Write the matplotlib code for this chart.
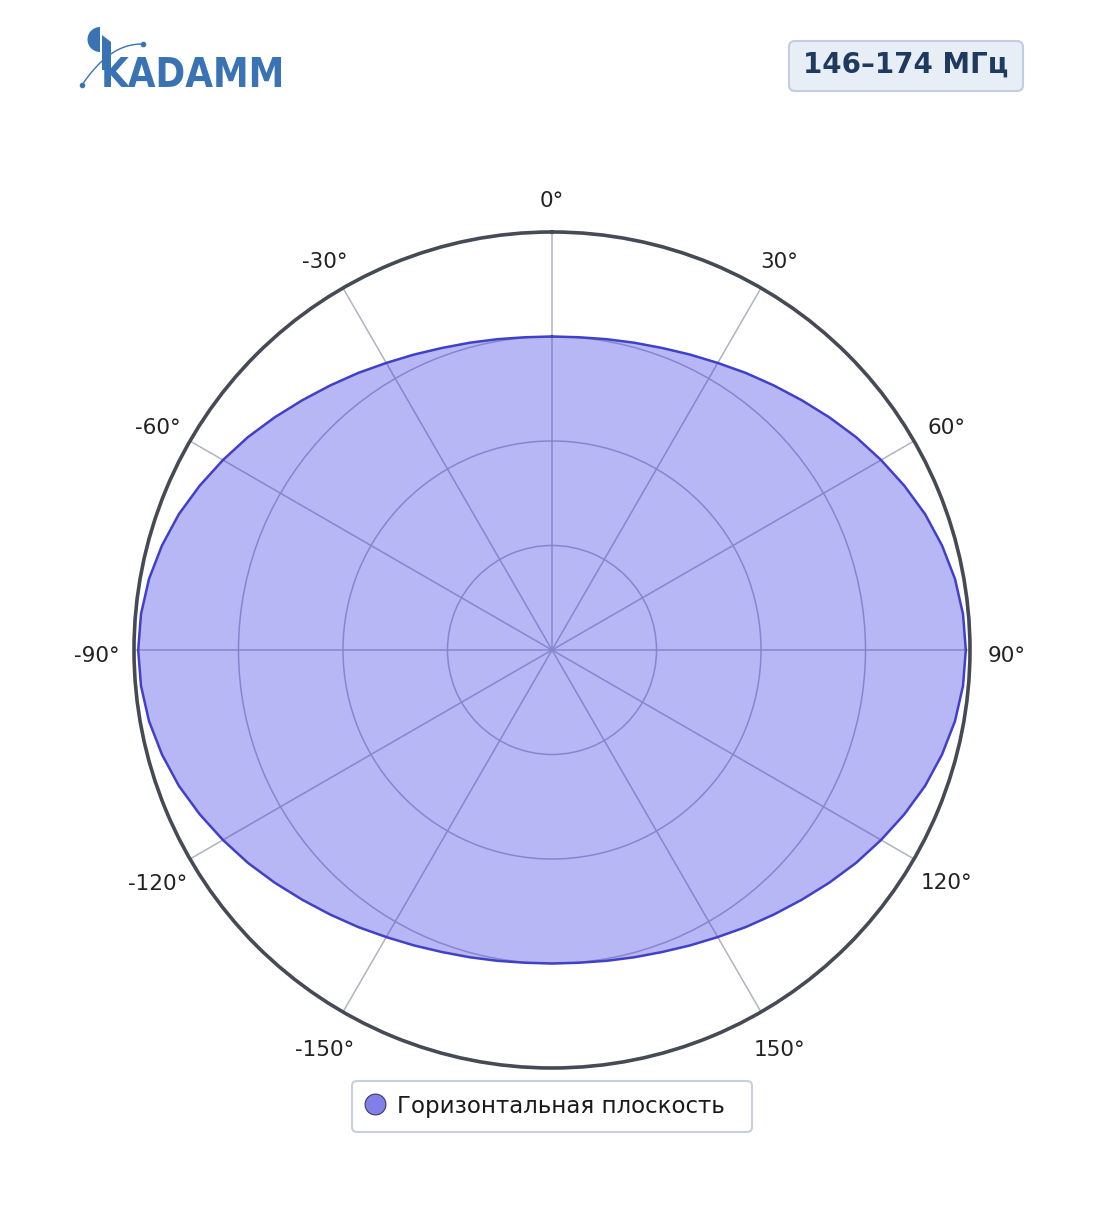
import numpy as np
import matplotlib
matplotlib.use("Agg")
import matplotlib.pyplot as plt
import matplotlib.transforms as mtransforms
from matplotlib.patches import FancyBboxPatch, Wedge, Polygon
from matplotlib.lines import Line2D

plt.rcParams['font.family'] = ['DejaVu Sans']

# ---- data ----
angles_deg = list(range(0, 365, 5))
gain = [0.750, 0.751, 0.755, 0.761, 0.769, 0.780, 0.793, 0.809, 0.826, 0.845,
        0.866, 0.888, 0.909, 0.930, 0.950, 0.966, 0.979, 0.987, 0.990,
        0.987, 0.979, 0.966, 0.950, 0.930, 0.909, 0.888, 0.866, 0.845, 0.826,
        0.809, 0.793, 0.780, 0.769, 0.761, 0.755, 0.751, 0.750,
        0.751, 0.755, 0.761, 0.769, 0.780, 0.793, 0.809, 0.826, 0.845,
        0.866, 0.888, 0.909, 0.930, 0.950, 0.966, 0.979, 0.987, 0.990,
        0.987, 0.979, 0.966, 0.950, 0.930, 0.909, 0.888, 0.866, 0.845, 0.826,
        0.809, 0.793, 0.780, 0.769, 0.761, 0.755, 0.751, 0.750]
tick_angles = [0, 30, 60, 90, 120, 150, 210, 240, 270, 300, 330]
tick_labels = ['0°', '30°', '60°', '90°', '120°', '150°', '-150°', '-120°', '-90°', '-60°', '-30°']
r_ticks = [0.25, 0.5, 0.75]
series_name = 'Горизонтальная плоскость'
band_label = '146–174 МГц'

W, H = 1104, 1211
fig = plt.figure(figsize=(W / 100, H / 100), dpi=100)

cx, cy, R = 552, 650, 418
ax = fig.add_axes([(cx - R) / W, 1 - (cy + R) / H, 2 * R / W, 2 * R / H], projection='polar')
ax.set_theta_zero_location('N')
ax.set_theta_direction(-1)
ax.set_ylim(0, 1.0)

theta = np.deg2rad(angles_deg)
ax.fill(theta, gain, color=(60/255, 60/255, 232/255), alpha=0.37, zorder=2, linewidth=0)
ax.plot(theta, gain, color='#4040c8', linewidth=1.8, zorder=3)

ax.set_thetagrids(tick_angles, [''] * len(tick_angles))
ax.set_rgrids(r_ticks, labels=[''] * len(r_ticks))
ax.grid(True, color='#b0b4c0', linewidth=1.1)
ax.set_axisbelow(True)
ax.spines['polar'].set_color('#454a55')
ax.spines['polar'].set_linewidth(2.6)

# angular labels, placed outside the rim
lab_tr = mtransforms.offset_copy(ax.transData, fig=fig, x=0, y=-6, units='dots')
for a, lab in zip(tick_angles, tick_labels):
    ax.text(np.deg2rad(a), 1.0 + 37 / R, lab, transform=lab_tr, fontsize=15.5, color='#222222',
            ha='center', va='center', clip_on=False)

# legend (frame drawn separately below)
h = Line2D([], [], marker='o', linestyle='none', markersize=15,
           markerfacecolor='#8080e8', markeredgecolor='#3a3a60', markeredgewidth=0.8)
leg = fig.legend([h], [series_name], loc='center left',
                 bbox_to_anchor=(364.8 / W, 1 - 1106 / H),
                 fontsize=16.5, frameon=False, borderpad=0, handlelength=0.9,
                 handletextpad=0.5, borderaxespad=0)
for t in leg.get_texts():
    t.set_color('#1a1a1a')

# overlay for decorations (pixel coords)
ov = fig.add_axes([0, 0, 1, 1], zorder=-1)
ov.set_xlim(0, W)
ov.set_ylim(H, 0)
ov.axis('off')
ov.patch.set_alpha(0)

# legend frame
ov.add_patch(FancyBboxPatch((352, 1081), 400, 51, boxstyle='round,pad=0,rounding_size=5',
                            facecolor='white', edgecolor='#c8d0e0', linewidth=1.5))

# title box
ov.add_patch(FancyBboxPatch((789, 41), 234, 50, boxstyle='round,pad=0,rounding_size=6',
                            facecolor='#e8eef6', edgecolor='#c2cde0', linewidth=1.5))
ov.text(906, 65, band_label, fontsize=20, fontweight='bold', color='#1e3a5f',
        ha='center', va='center')

# logo
blue = '#3a73b4'
ov.add_patch(Wedge((100, 39.5), 12.5, 90, 270, facecolor=blue, edgecolor='none'))
ov.add_patch(Polygon([[102, 35], [111, 42], [111, 70], [102, 70]], closed=True,
                     facecolor=blue, edgecolor='none'))
ov.text(101, 87, 'KADAMM', fontsize=28.7, fontweight='bold', color=blue,
        ha='left', va='baseline', fontstretch='condensed')
t = np.linspace(0, 1, 50)
ov.plot(82 + (143 - 82) * t, 85 - (85 - 44) * (1 - (1 - t) ** 2.2), color=blue, linewidth=1)
ov.plot([82, 143], [85, 44], 'o', color=blue, markersize=3)

fig.savefig('out.png', dpi=100)
